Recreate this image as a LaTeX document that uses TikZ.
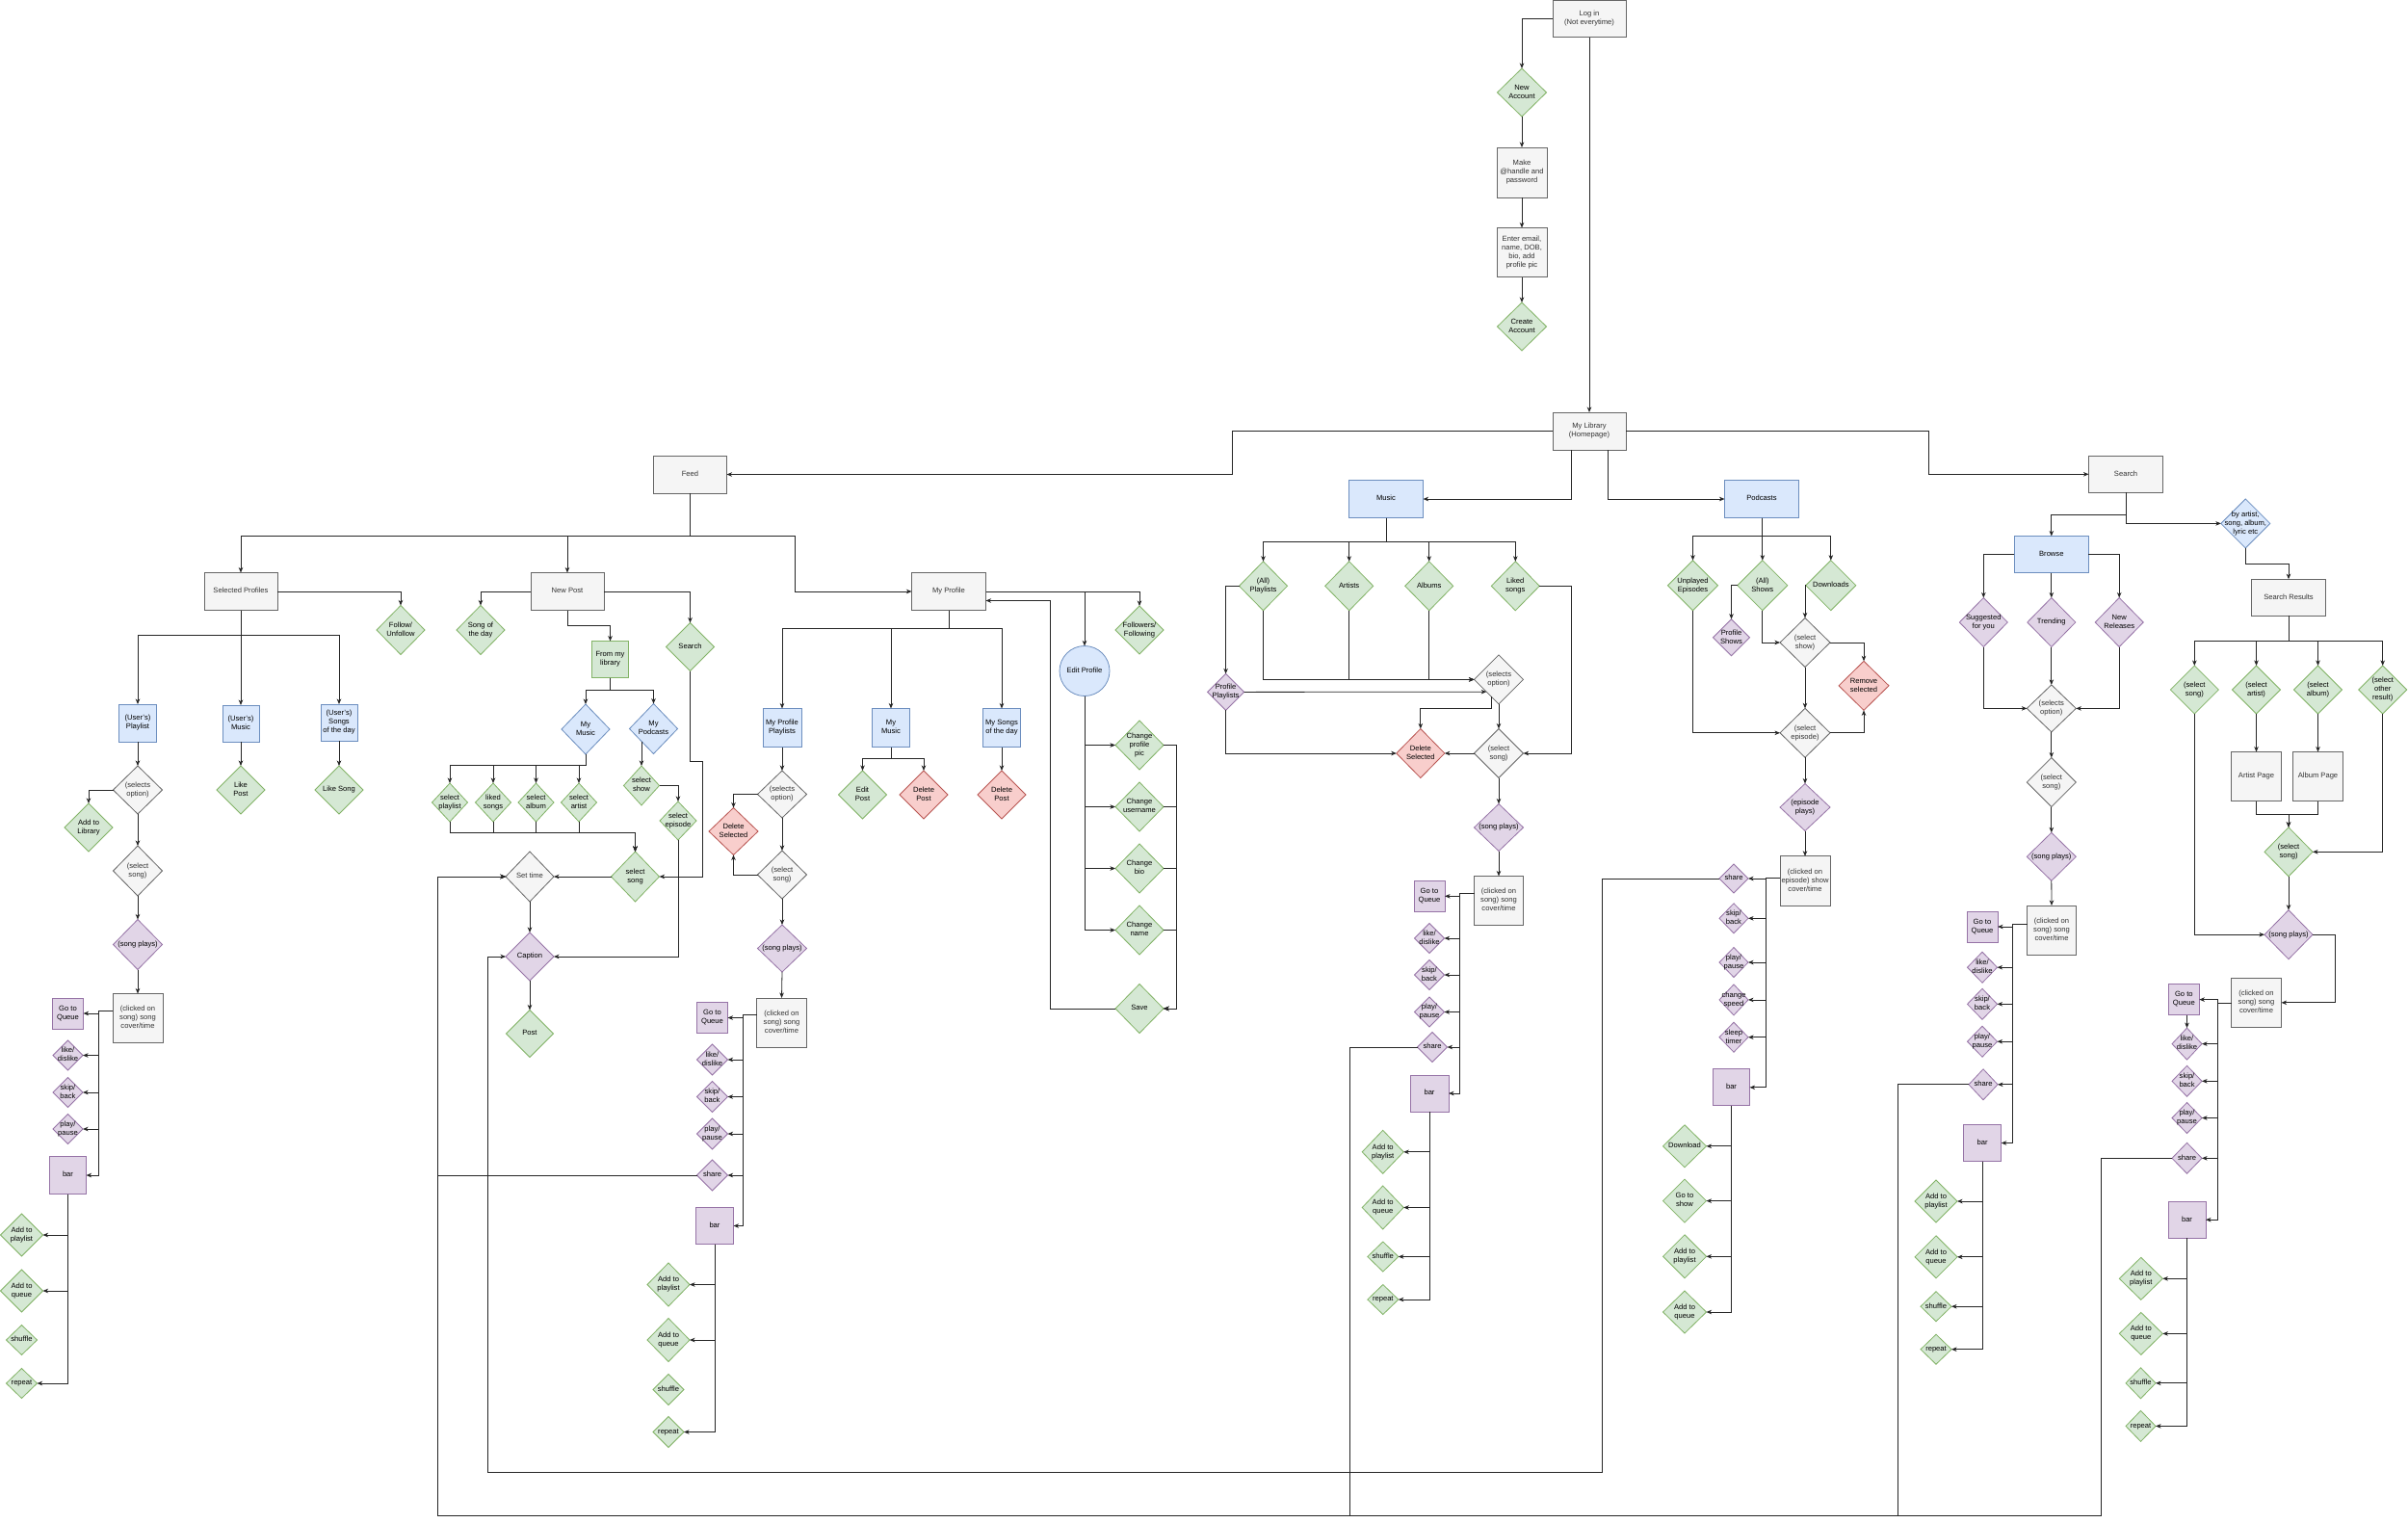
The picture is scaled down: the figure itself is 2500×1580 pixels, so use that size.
\documentclass[tikz,border=0pt]{standalone}
\usepackage{fontspec}
\setmainfont{Liberation Sans}
\usetikzlibrary{shapes.geometric,arrows.meta,calc}
\definecolor{gfill}{HTML}{F5F5F5}\definecolor{gdraw}{HTML}{666666}\definecolor{gtext}{HTML}{333333}
\definecolor{bfill}{HTML}{DAE8FC}\definecolor{bdraw}{HTML}{6C8EBF}
\definecolor{grfill}{HTML}{D5E8D4}\definecolor{grdraw}{HTML}{82B366}
\definecolor{pfill}{HTML}{E1D5E7}\definecolor{pdraw}{HTML}{9673A6}
\definecolor{rfill}{HTML}{F8CECC}\definecolor{rdraw}{HTML}{B85450}
\definecolor{linec}{HTML}{262626}
\newcommand\NT[1]{\raisebox{-0.5ex}[0pt][0pt]{\makebox[0pt]{\begin{tabular}{@{}c@{}}#1\end{tabular}}}}
\tikzset{
  base/.style={inner sep=0pt, outer sep=0pt, line width=0.8pt, font={\fontsize{7.6}{9}\selectfont}},
  box/.style 2 args={rectangle, base, minimum width=#1pt, minimum height=#2pt},
  dia/.style 2 args={diamond, base, minimum width=#1pt, minimum height=#2pt},
  cg/.style={fill=gfill, draw=gdraw, text=gtext},
  cb/.style={fill=bfill, draw=bdraw, text=black},
  cgr/.style={fill=grfill, draw=grdraw, text=black},
  cp/.style={fill=pfill, draw=pdraw, text=black},
  cr/.style={fill=rfill, draw=rdraw, text=black},
  arr/.style={draw=linec, line width=0.8pt, -{Stealth[length=5.5pt,width=4.5pt,inset=1.6pt]}},
}
\begin{document}
\begin{tikzpicture}[x=1pt,y=-1pt]
\fill[white] (0,0) rectangle (2500,1580);
\useasboundingbox (0,0) rectangle (2500,1580);

% ---------- top ----------
\node[box={76}{38},cg] (login) at (1650,19.5) {\NT{Log in\\(Not everytime)}};
\node[dia={51}{50},cgr] (newacc) at (1580,96) {\NT{New\\Account}};
\node[box={52}{52},cg] (handle) at (1580,179) {\NT{Make\\@handle and\\password}};
\node[box={52}{51},cg] (enter) at (1580,262) {\NT{Enter email,\\name, DOB,\\bio, add\\profile pic}};
\node[dia={51}{50},cgr] (create) at (1580,339) {\NT{Create\\Account}};
\node[box={76}{39},cg] (lib) at (1650,447.5) {\NT{My Library\\(Homepage)}};

% ---------- feed ----------
\node[box={76}{39},cg] (feed) at (716.5,492.5) {\NT{Feed}};
\node[box={76}{39},cg] (selprof) at (250,614) {\NT{Selected Profiles}};
\node[box={76}{39},cg] (newpost) at (589,614) {\NT{New Post}};
\node[box={77}{39},cg] (myprof) at (985,614) {\NT{My Profile}};
\node[dia={50}{51},cgr] (follow) at (416,654) {\NT{Follow/\\Unfollow}};
\node[dia={50}{51},cgr] (sotd) at (499,654) {\NT{Song of\\the day}};
\node[dia={50}{50},cgr] (npsearch) at (716.5,671.5) {\NT{Search}};
\node[box={38}{38},cgr] (fromlib) at (633.5,684.5) {\NT{From my\\library}};
\node[box={39}{39},cb] (upl) at (143,750.5) {\NT{(User's)\\Playlist}};
\node[box={38}{38},cb] (umus) at (250,751) {\NT{(User's)\\Music}};
\node[box={38}{38},cb] (usotd) at (352,750) {\NT{(User's)\\Songs\\of the day}};
\node[dia={50}{50},cgr] (likepost) at (250,820) {\NT{Like\\Post}};
\node[dia={50}{50},cgr] (likesong) at (352,820) {\NT{Like Song}};
\node[dia={51}{50},cg] (selopt1) at (143,820) {\NT{(selects\\option)}};
\node[dia={50}{50},cgr] (addlib) at (92,859) {\NT{Add to\\Library}};
\node[dia={51}{52},cg] (selsong1) at (143,904) {\NT{(select\\song)}};
\node[dia={51}{52},cp] (plays1) at (143,980.5) {\NT{(song plays)}};
\node[box={52}{51},cg] (clk1) at (143,1057) {\NT{(clicked on\\song) song\\cover/time}};
\node[box={32}{32},cp] (goq1) at (70.5,1052) {\NT{Go to\\Queue}};
\node[dia={31}{31},cp] (like1) at (70.5,1095.5) {\NT{like/\\dislike}};
\node[dia={31}{31},cp] (skip1) at (70.5,1134) {\NT{skip/\\back}};
\node[dia={31}{31},cp] (play1) at (70.5,1172) {\NT{play/\\pause}};
\node[box={38}{39},cp] (bar1) at (70.5,1220) {\NT{bar}};
\node[dia={44}{44},cgr] (ap1) at (22.5,1282) {\NT{Add to\\playlist}};
\node[dia={44}{44},cgr] (aq1) at (22.5,1340) {\NT{Add to\\queue}};
\node[dia={32}{31},cgr] (sh1) at (22.5,1391) {\NT{shuffle}};
\node[dia={32}{31},cgr] (rp1) at (22.5,1436) {\NT{repeat}};

% ---------- new post ----------
\node[dia={50}{52},cb] (mymus) at (608,757) {\NT{My\\Music}};
\node[dia={50}{52},cb] (mypod) at (678.5,756.5) {\NT{My\\Podcasts}};
\node[dia={37}{40},cgr] (selpl) at (467,833) {\NT{select\\playlist}};
\node[dia={37}{40},cgr] (liked) at (512,833) {\NT{liked\\songs}};
\node[dia={37}{40},cgr] (selalb) at (556.5,833) {\NT{select\\album}};
\node[dia={37}{40},cgr] (selart) at (601,833) {\NT{select\\artist}};
\node[dia={37}{41},cgr] (selshow) at (666,815.5) {\NT{select\\show}};
\node[dia={38}{40},cgr] (selep) at (704,852) {\NT{select\\episode}};
\node[dia={50}{52},cgr] (selsongNP) at (659.5,910) {\NT{select\\song}};
\node[dia={50}{52},cg] (settime) at (550,910) {\NT{Set time}};
\node[dia={50}{50},cp] (caption) at (550,993) {\NT{Caption}};
\node[dia={49}{49},cgr] (post) at (550,1073) {\NT{Post}};

% ---------- my profile ----------
\node[dia={50}{50},cgr] (follows) at (1183,654) {\NT{Followers/\\Following}};
\node[circle,base,cb,minimum size=52pt] (editp) at (1126,696.5) {\NT{Edit Profile}};
\node[box={40}{40},cb] (mpp) at (812,755.5) {\NT{My Profile\\Playlists}};
\node[box={39}{40},cb] (mpm) at (925,755.5) {\NT{My\\Music}};
\node[box={39}{40},cb] (mps) at (1040,755.5) {\NT{My Songs\\of the day}};
\node[dia={51}{49},cg] (selopt2) at (812,824.5) {\NT{(selects\\option)}};
\node[dia={51}{49},cr] (delsel2) at (761.5,863) {\NT{Delete\\Selected}};
\node[dia={51}{50},cg] (selsong2) at (812,908) {\NT{(select\\song)}};
\node[dia={51}{49},cp] (plays2) at (812,984.5) {\NT{(song plays)}};
\node[box={52}{51},cg] (clk2) at (811.5,1061.5) {\NT{(clicked on\\song) song\\cover/time}};
\node[box={32}{32},cp] (goq2) at (739.5,1056.5) {\NT{Go to\\Queue}};
\node[dia={32}{32},cp] (like2) at (739.5,1100) {\NT{like/\\dislike}};
\node[dia={32}{32},cp] (skip2) at (739.5,1138.5) {\NT{skip/\\back}};
\node[dia={32}{32},cp] (play2) at (739.5,1177) {\NT{play/\\pause}};
\node[dia={32}{32},cp] (share2) at (739.5,1220) {\NT{share}};
\node[box={39}{38},cp] (bar2) at (742,1272.5) {\NT{bar}};
\node[dia={44}{45},cgr] (ap2) at (694,1333.5) {\NT{Add to\\playlist}};
\node[dia={44}{45},cgr] (aq2) at (694,1391) {\NT{Add to\\queue}};
\node[dia={32}{32},cgr] (sh2) at (694,1442.5) {\NT{shuffle}};
\node[dia={32}{32},cgr] (rp2) at (694,1486.5) {\NT{repeat}};
\node[dia={50}{50},cgr] (editpost) at (895.5,825) {\NT{Edit\\Post}};
\node[dia={50}{50},cr] (delpost1) at (959,825) {\NT{Delete\\Post}};
\node[dia={50}{50},cr] (delpost2) at (1040,825) {\NT{Delete\\Post}};
\node[dia={50}{51},cgr] (cpp) at (1183,773.5) {\NT{Change\\profile\\pic}};
\node[dia={50}{51},cgr] (cun) at (1183,837.5) {\NT{Change\\username}};
\node[dia={50}{51},cgr] (cbio) at (1183,901.5) {\NT{Change\\bio}};
\node[dia={50}{51},cgr] (cname) at (1183,965.5) {\NT{Change\\name}};
\node[dia={50}{51},cgr] (save) at (1183,1047) {\NT{Save}};

% ---------- music ----------
\node[box={77}{39},cb] (music) at (1439,518) {\NT{Music}};
\node[dia={50}{51},cgr] (allpl) at (1311.5,608.3) {\NT{(All)\\Playlists}};
\node[dia={50}{51},cgr] (artists) at (1400.7,608.3) {\NT{Artists}};
\node[dia={50}{51},cgr] (albums) at (1483.7,608.3) {\NT{Albums}};
\node[dia={50}{51},cgr] (likedsongs) at (1573.3,608.3) {\NT{Liked\\songs}};
\node[dia={38}{38},cp] (profpl) at (1272.6,718.4) {\NT{Profile\\Playlists}};
\node[dia={51}{51},cg] (selopt3) at (1556,705.4) {\NT{(selects\\option)}};
\node[dia={51}{51},cg] (selsong3) at (1556,782) {\NT{(select\\song)}};
\node[dia={50}{51},cr] (delsel3) at (1474.8,782) {\NT{Delete\\Selected}};
\node[dia={51}{49},cp] (plays3) at (1556,859) {\NT{(song plays)}};
\node[box={51}{51},cg] (clk3) at (1556,935) {\NT{(clicked on\\song) song\\cover/time}};
\node[box={32}{32},cp] (goq3) at (1484,930.3) {\NT{Go to\\Queue}};
\node[dia={31}{31},cp] (like3) at (1484,974) {\NT{like/\\dislike}};
\node[dia={31}{31},cp] (skip3) at (1484,1012) {\NT{skip/\\back}};
\node[dia={31}{31},cp] (play3) at (1484,1050.5) {\NT{play/\\pause}};
\node[dia={31}{31},cp] (share3) at (1487,1087) {\NT{share}};
\node[box={40}{38},cp] (bar3) at (1484,1135) {\NT{bar}};
\node[dia={43}{45},cgr] (ap3) at (1435.7,1195.8) {\NT{Add to\\playlist}};
\node[dia={43}{45},cgr] (aq3) at (1435.7,1253.5) {\NT{Add to\\queue}};
\node[dia={32}{31},cgr] (sh3) at (1435.8,1304.5) {\NT{shuffle}};
\node[dia={32}{31},cgr] (rp3) at (1435.8,1349) {\NT{repeat}};

% ---------- podcasts ----------
\node[box={77}{39},cb] (podcasts) at (1829,518) {\NT{Podcasts}};
\node[dia={52}{52},cgr] (unplayed) at (1757.5,607.7) {\NT{Unplayed\\Episodes}};
\node[dia={52}{52},cgr] (allshows) at (1829.8,607.7) {\NT{(All)\\Shows}};
\node[dia={52}{52},cgr] (downloads) at (1900.8,607.7) {\NT{Downloads}};
\node[dia={38}{38},cp] (profshows) at (1797.5,661.7) {\NT{Profile\\Shows}};
\node[dia={52}{51},cg] (selshow4) at (1874,667) {\NT{(select\\show)}};
\node[dia={52}{51},cr] (remove) at (1935,711.8) {\NT{Remove\\selected}};
\node[dia={52}{51},cg] (selep4) at (1874,760.8) {\NT{(select\\episode)}};
\node[dia={52}{49},cp] (epplays) at (1874,838) {\NT{(episode\\plays)}};
\node[box={52}{52},cg] (clk4) at (1874,914.8) {\NT{(clicked on\\episode) show\\cover/time}};
\node[dia={30}{30},cp] (share4) at (1800,912) {\NT{share}};
\node[dia={30}{31},cp] (skip4) at (1800,953.3) {\NT{skip/\\back}};
\node[dia={30}{31},cp] (play4) at (1800,999) {\NT{play/\\pause}};
\node[dia={30}{32},cp] (speed4) at (1800,1037.9) {\NT{change\\speed}};
\node[dia={30}{31},cp] (sleep4) at (1800,1076.7) {\NT{sleep\\timer}};
\node[box={38}{38},cp] (bar4) at (1797.5,1128.8) {\NT{bar}};
\node[dia={45}{44},cgr] (dl4) at (1749,1189.8) {\NT{Download}};
\node[dia={45}{45},cgr] (goshow) at (1749,1246.6) {\NT{Go to\\show}};
\node[dia={45}{45},cgr] (ap4) at (1749,1304.3) {\NT{Add to\\playlist}};
\node[dia={45}{44},cgr] (aq4) at (1749,1362) {\NT{Add to\\queue}};

% ---------- search ----------
\node[box={77}{38},cg] (search) at (2207,492.3) {\NT{Search}};
\node[box={77}{38},cb] (browse) at (2129.8,575.5) {\NT{Browse}};
\node[dia={51}{51},cb] (byart) at (2331.3,543.4) {\NT{by artist,\\song, album,\\lyric etc}};
\node[box={77}{38},cg] (results) at (2376,620.2) {\NT{Search Results}};
\node[dia={50}{51},cp] (sugg) at (2059.3,646) {\NT{Suggested\\for you}};
\node[dia={50}{51},cp] (trend) at (2129.8,646) {\NT{Trending}};
\node[dia={50}{51},cp] (newrel) at (2200.2,646) {\NT{New\\Releases}};
\node[dia={51}{49},cg] (selopt5) at (2129.8,735.4) {\NT{(selects\\option)}};
\node[dia={51}{51},cg] (selsong5) at (2129.8,812) {\NT{(select\\song)}};
\node[dia={51}{50},cp] (plays5) at (2129.8,889.3) {\NT{(song plays)}};
\node[box={51}{51},cg] (clk5) at (2130,965.5) {\NT{(clicked on\\song) song\\cover/time}};
\node[box={32}{32},cp] (goq5) at (2058,962) {\NT{Go to\\Queue}};
\node[dia={31}{32},cp] (like5) at (2058,1004.2) {\NT{like/\\dislike}};
\node[dia={31}{32},cp] (skip5) at (2058,1042.3) {\NT{skip/\\back}};
\node[dia={31}{32},cp] (play5) at (2058,1081.2) {\NT{play/\\pause}};
\node[dia={30}{32},cp] (share5) at (2059,1125.8) {\NT{share}};
\node[box={39}{38},cp] (bar5) at (2058.2,1186.5) {\NT{bar}};
\node[dia={44}{44},cgr] (ap5) at (2010,1247) {\NT{Add to\\playlist}};
\node[dia={44}{44},cgr] (aq5) at (2010,1304.8) {\NT{Add to\\queue}};
\node[dia={32}{31},cgr] (sh5) at (2010,1356.2) {\NT{shuffle}};
\node[dia={32}{31},cgr] (rp5) at (2010,1400.7) {\NT{repeat}};

\node[dia={50}{50},cgr] (srsong) at (2278.3,716) {\NT{(select\\song)}};
\node[dia={50}{50},cgr] (srart) at (2342.5,716) {\NT{(select\\artist)}};
\node[dia={50}{50},cgr] (sralb) at (2406.5,716) {\NT{(select\\album)}};
\node[dia={50}{50},cgr] (srother) at (2473.7,716) {\NT{(select\\other\\result)}};
\node[box={52}{51},cg] (artpage) at (2342.5,806) {\NT{Artist Page}};
\node[box={52}{51},cg] (albpage) at (2406.5,806) {\NT{Album Page}};
\node[dia={50}{51},cgr] (srsong2) at (2376,884.3) {\NT{(select\\song)}};
\node[dia={50}{51},cp] (plays6) at (2376,970.2) {\NT{(song plays)}};
\node[box={52}{51},cg] (clk6) at (2342.5,1040.8) {\NT{(clicked on\\song) song\\cover/time}};
\node[box={32}{32},cp] (goq6) at (2267.3,1037.6) {\NT{Go to\\Queue}};
\node[dia={31}{33},cp] (like6) at (2270.5,1083.6) {\NT{like/\\dislike}};
\node[dia={31}{32},cp] (skip6) at (2270.5,1122.3) {\NT{skip/\\back}};
\node[dia={31}{32},cp] (play6) at (2270.5,1160.5) {\NT{play/\\pause}};
\node[dia={31}{32},cp] (share6) at (2270.5,1202.3) {\NT{share}};
\node[box={39}{38},cp] (bar6) at (2270.5,1266.2) {\NT{bar}};
\node[dia={45}{44},cgr] (ap6) at (2222.8,1327.3) {\NT{Add to\\playlist}};
\node[dia={45}{44},cgr] (aq6) at (2222.8,1384.4) {\NT{Add to\\queue}};
\node[dia={31}{32},cgr] (sh6) at (2222.5,1435.8) {\NT{shuffle}};
\node[dia={31}{32},cgr] (rp6) at (2222.5,1480.4) {\NT{repeat}};

% ================= connectors =================
\draw[arr] (login.west) -| (newacc.north);
\draw[arr] (newacc.south) -- (handle.north);
\draw[arr] (handle.south) -- (enter.north);
\draw[arr] (enter.south) -- (create.north);
\draw[arr] (login.south) -- (lib.north);
\draw[arr] (lib.west) -- (1279,447.5) |- (feed.east);
\draw[arr] (lib.east) -- (2002.5,447.5) |- (search.west);
\draw[arr] ([xshift=-18.5pt]lib.south) |- (music.east);
\draw[arr] ([xshift=19.5pt]lib.south) |- (podcasts.west);

% feed
\coordinate (fb) at (716.5,556.5);
\draw[arr] (feed.south) -- (fb) -| (selprof.north);
\draw[arr] (feed.south) -- (fb) -| (newpost.north);
\draw[arr] (feed.south) |- (825.5,556.5) |- (myprof.west);
\draw[arr] (selprof.east) -| (follow.north);
\draw[arr] (newpost.west) -| (sotd.north);
\draw[arr] (newpost.east) -| (npsearch.north);
\draw[arr] (newpost.south) |- (633.5,649.5) -- (fromlib.north);
\coordinate (spb) at (250,659.5);
\draw[arr] (selprof.south) -- (spb) -| (upl.north);
\draw[arr] (selprof.south) -- (umus.north);
\draw[arr] (selprof.south) -- (spb) -| (usotd.north);
\draw[arr] (upl.south) -- (selopt1.north);
\draw[arr] (umus.south) -- (likepost.north);
\draw[arr] (usotd.south) -- (likesong.north);
\draw[arr] (selopt1.west) -| (addlib.north);
\draw[arr] (selopt1.south) -- (selsong1.north);
\draw[arr] (selsong1.south) -- (plays1.north);
\draw[arr] (plays1.south) -- (clk1.north);
\coordinate (t1) at (102.5,1049);
\foreach \n in {goq1,like1,skip1,play1,bar1} \draw[arr] (clk1.west |- t1) -- (t1) |- (\n.east);
\foreach \n in {ap1,aq1,rp1} \draw[arr] (bar1.south) |- (\n.east);

% new post
\coordinate (flb) at (633.5,716.5);
\draw[arr] (fromlib.south) -- (flb) -| (mymus.north);
\draw[arr] (fromlib.south) -- (flb) -| (mypod.north);
\coordinate (mmb) at (608,794);
\foreach \n in {selpl,liked,selalb,selart} \draw[arr] (mymus.south) -- (mmb) -| (\n.north);
\draw[arr] (mypod.south west) -- (selshow.north);
\draw[arr] (selshow.east) -| (selep.north);
\coordinate (ssb) at (659.5,864);
\foreach \n in {selpl,liked,selalb,selart} \draw[arr] (\n.south) |- (ssb) -- (selsongNP.north);
\draw[arr] (selsongNP.west) -- (settime.east);
\draw[arr] (npsearch.south) -- (716.5,790.5) -- (729.5,790.5) |- (selsongNP.east);
\draw[arr] (settime.south) -- (caption.north);
\draw[arr] (selep.south) |- (caption.east);
\draw[arr] (caption.south) -- (post.north);

% my profile
\draw[arr] (myprof.east) -| (follows.north);
\draw[arr] (myprof.east) -| (editp.north);
\coordinate (mpb) at (985,652);
\foreach \n in {mpp,mpm,mps} \draw[arr] (myprof.south) -- (mpb) -| (\n.north);
\draw[arr] (mpp.south) -- (selopt2.north);
\draw[arr] (selopt2.west) -| (delsel2.north);
\draw[arr] (selopt2.south) -- (selsong2.north);
\draw[arr] (selsong2.west) -| (delsel2.south);
\draw[arr] (selsong2.south) -- (plays2.north);
\draw[arr] (plays2.south) -- (clk2.north);
\coordinate (t2) at (771.5,1053.5);
\foreach \n in {goq2,like2,skip2,play2,share2,bar2} \draw[arr] (clk2.west |- t2) -- (t2) |- (\n.east);
\foreach \n in {ap2,aq2,rp2} \draw[arr] (bar2.south) |- (\n.east);
\coordinate (mmb2) at (925,787.5);
\draw[arr] (mpm.south) -- (mmb2) -| (editpost.north);
\draw[arr] (mpm.south) -- (mmb2) -| (delpost1.north);
\draw[arr] (mps.south) -- (delpost2.north);
\foreach \n in {cpp,cun,cbio,cname} \draw[arr] (editp.south) |- (\n.west);
\coordinate (sr) at (1221.5,1047);
\foreach \n in {cpp,cun,cbio,cname} \draw[arr] (\n.east) -| (sr) -- (save.east);
\draw[arr] (save.west) -| (1090.5,623.5) -- ([yshift=-9.5pt]myprof.east);

% music
\coordinate (mb) at (1439,562.5);
\foreach \n in {allpl,artists,albums,likedsongs} \draw[arr] (music.south) -- (mb) -| (\n.north);
\draw[arr] (allpl.west) -| (profpl.north);
\foreach \n in {allpl,artists,albums} \draw[arr] (\n.south) |- (selopt3.west);
\draw[arr] (profpl.east) -- (selopt3.south west);
\draw[arr] (selopt3.south) -- (selsong3.north);
\coordinate (d3) at (1474.8,735.6);
\draw[arr] ($(selopt3.south west)!0.37!(selopt3.south)$) |- (d3) -- (delsel3.north);
\draw[arr] (selsong3.west) -- (delsel3.east);
\draw[arr] (profpl.south) |- (delsel3.west);
\draw[arr] (likedsongs.east) -- (1631.5,608.3) |- (selsong3.east);
\draw[arr] (selsong3.south) -- (plays3.north);
\draw[arr] (plays3.south) -- (clk3.north);
\coordinate (t3) at (1515.7,927.7);
\foreach \n in {goq3,like3,skip3,play3,share3,bar3} \draw[arr] (clk3.west |- t3) -- (t3) |- (\n.east);
\foreach \n in {ap3,aq3,sh3,rp3} \draw[arr] (bar3.south) |- (\n.east);

% podcasts
\coordinate (pb) at (1829,556.3);
\foreach \n in {unplayed,allshows,downloads} \draw[arr] (podcasts.south) -- (pb) -| (\n.north);
\draw[arr] (allshows.west) -| (profshows.north);
\draw[arr] (allshows.south) |- (selshow4.west);
\draw[arr] (downloads.west) -| (selshow4.north);
\draw[arr] (selshow4.east) -| (remove.north);
\draw[arr] (selshow4.south) -- (selep4.north);
\draw[arr] (unplayed.south) |- (selep4.west);
\draw[arr] (selep4.east) -| (remove.south);
\draw[arr] (selep4.south) -- (epplays.north);
\draw[arr] (epplays.south) -- (clk4.north);
\coordinate (t4) at (1833.5,911.3);
\foreach \n in {share4,skip4,play4,speed4,sleep4,bar4} \draw[arr] (clk4.west |- t4) -- (t4) |- (\n.east);
\foreach \n in {dl4,goshow,ap4,aq4} \draw[arr] (bar4.south) |- (\n.east);

% search
\draw[arr] (search.south) -- (2207,534.6) -| (browse.north);
\draw[arr] (search.south) |- (byart.west);
\draw[arr] (byart.south) -- (2331.3,585.7) -| (results.north);
\draw[arr] (browse.west) -| (sugg.north);
\draw[arr] (browse.south) -- (trend.north);
\draw[arr] (browse.east) -| (newrel.north);
\draw[arr] (sugg.south) |- (selopt5.west);
\draw[arr] (trend.south) -- (selopt5.north);
\draw[arr] (newrel.south) |- (selopt5.east);
\draw[arr] (selopt5.south) -- (selsong5.north);
\draw[arr] (selsong5.south) -- (plays5.north);
\draw[arr] (plays5.south) -- (clk5.north);
\coordinate (t5) at (2089.3,959);
\foreach \n in {goq5,like5,skip5,play5,share5,bar5} \draw[arr] (clk5.west |- t5) -- (t5) |- (\n.east);
\foreach \n in {ap5,aq5,sh5,rp5} \draw[arr] (bar5.south) |- (\n.east);

\coordinate (rb) at (2376,665.4);
\foreach \n in {srsong,srart,sralb,srother} \draw[arr] (results.south) -- (rb) -| (\n.north);
\draw[arr] (srart.south) -- (artpage.north);
\draw[arr] (sralb.south) -- (albpage.north);
\coordinate (apb) at (2376,845.4);
\draw[arr] (artpage.south) |- (apb) -- (srsong2.north);
\draw[arr] (albpage.south) |- (apb) -- (srsong2.north);
\draw[arr] (srother.south) |- (srsong2.east);
\draw[arr] (srsong2.south) -- (plays6.north);
\draw[arr] (srsong.south) |- (plays6.west);
\draw[arr] (plays6.east) -- (2424.3,970.2) |- (clk6.east);
\coordinate (t6) at (2302.3,1040.9);
\foreach \n in {goq6,like6,skip6,play6,share6,bar6} \draw[arr] (clk6.west |- t6) -- (t6) |- (\n.east);
\draw[arr] (goq6.south -| like6.north) -- (like6.north);
\foreach \n in {ap6,aq6,sh6,rp6} \draw[arr] (bar6.south) |- (\n.east);

% long return loops
\coordinate (L1) at (454.7,1573);
\coordinate (L2) at (506,1528.3);
\draw[arr] (share2.west) -- (454.7,1220) |- (settime.west);
\draw[arr] (share3.west) -| (1401.5,1573) -- (L1) |- (settime.west);
\draw[arr] (share5.west) -| (1970.5,1573) -- (L1) |- (settime.west);
\draw[arr] (share6.west) -| (2181.5,1573) -- (L1) |- (settime.west);
\draw[arr] (share4.west) -| (1663,1528.3) -- (L2) |- (caption.west);
\end{tikzpicture}
\end{document}
